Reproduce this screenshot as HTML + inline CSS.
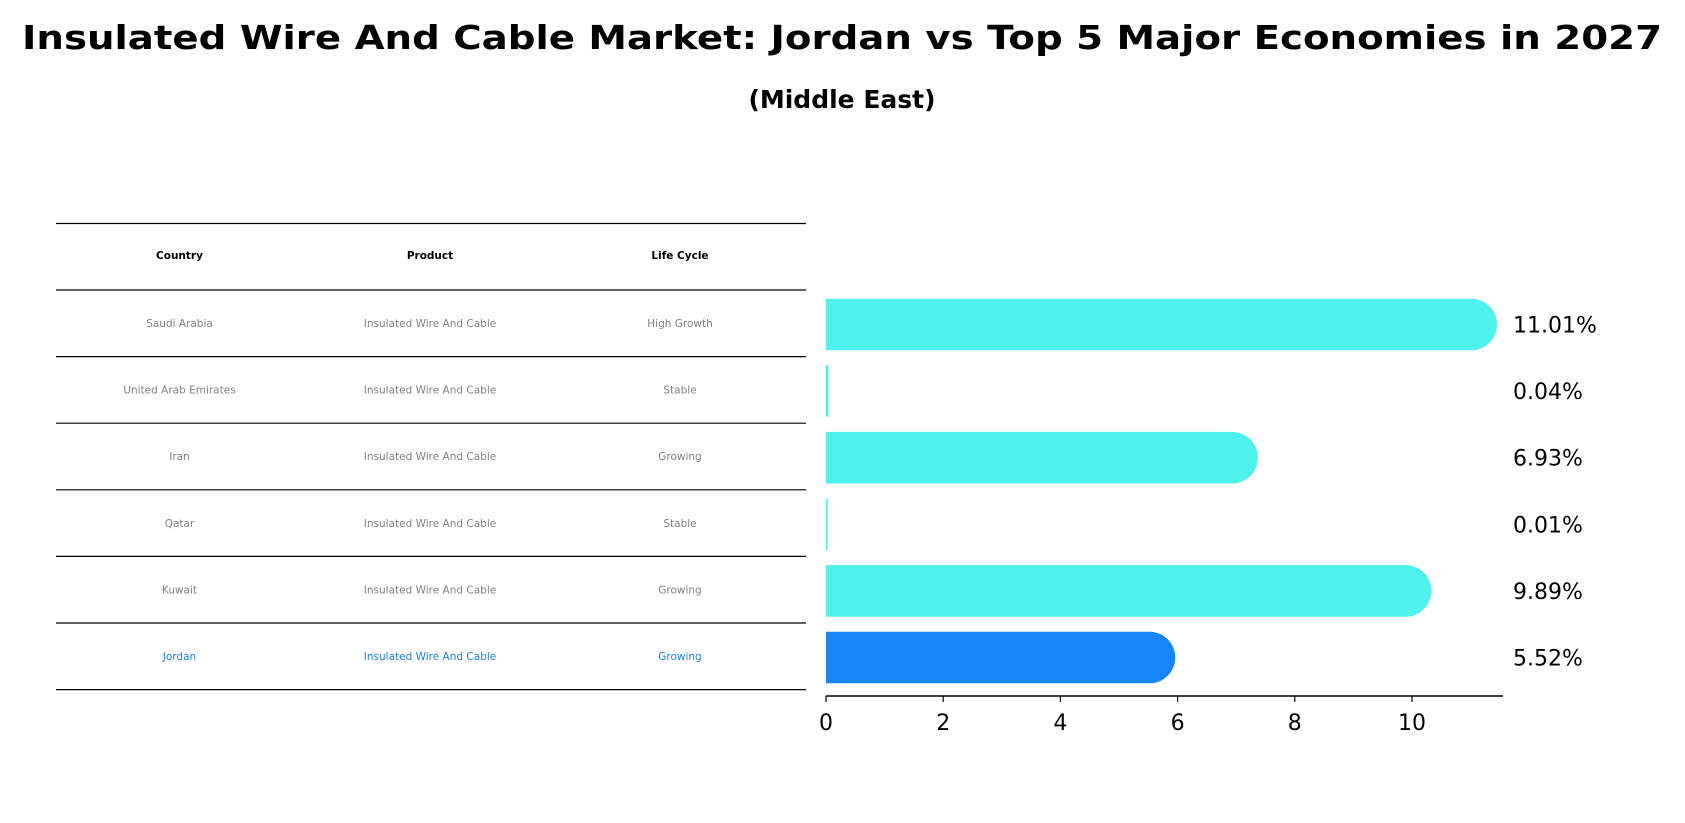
<!DOCTYPE html>
<html><head><meta charset="utf-8"><style>
html,body{margin:0;padding:0;background:#fff;}
svg{display:block;font-family:"DejaVu Sans","Liberation Sans",sans-serif;}
</style></head><body>
<svg id="chart" width="1685" height="823" viewBox="0 0 1685 823">
<text x="842" y="49" text-anchor="middle" font-size="33" font-weight="bold" textLength="1640" lengthAdjust="spacingAndGlyphs">Insulated Wire And Cable Market: Jordan vs Top 5 Major Economies in 2027</text>
<text x="842" y="108" text-anchor="middle" font-size="25" font-weight="bold">(Middle East)</text>
<g id="table"></g>
<g id="bars"></g>
<g id="axis"></g>
</svg>
<script>
const countries=["Saudi Arabia","United Arab Emirates","Iran","Qatar","Kuwait","Jordan"];
const products=["Insulated Wire And Cable","Insulated Wire And Cable","Insulated Wire And Cable","Insulated Wire And Cable","Insulated Wire And Cable","Insulated Wire And Cable"];
const lifeCycles=["High Growth","Stable","Growing","Stable","Growing","Growing"];
const values=[11.01,0.04,6.93,0.01,9.89,5.52];
const valueLabels=["11.01%","0.04%","6.93%","0.01%","9.89%","5.52%"];
const ticks=[0,2,4,6,8,10];
const headers=["Country","Product","Life Cycle"];

const NS="http://www.w3.org/2000/svg";
function mk(tag,attrs,parent){const e=document.createElementNS(NS,tag);for(const k in attrs)e.setAttribute(k,attrs[k]);parent.appendChild(e);return e;}
const x0=826,unit=58.6,axisY=696;
const X=v=>x0+v*unit;
const rowY0=323.5,rowStep=66.6;
const Y=i=>rowY0+i*rowStep;

// table
const tbl=document.getElementById('table');
const lineYs=[223.5];for(let i=0;i<=countries.length;i++)lineYs.push(290+i*66.6);
lineYs.forEach((y,i)=>{const l=mk('line',{x1:56,x2:806,y1:y,y2:y,stroke:'#000','stroke-width':1.2},tbl);

});
const colX=[179.5,430,680];
headers.forEach((h,j)=>{const t=mk('text',{x:colX[j],y:259,'text-anchor':'middle','font-size':10.5,'font-weight':'bold'},tbl);t.textContent=h;

});
countries.forEach((c,i)=>{const col=i===countries.length-1?'#1a7fd6':'#808080';
[c,products[i],lifeCycles[i]].forEach((s,j)=>{const t=mk('text',{x:colX[j],y:Y(i)+3.5,'text-anchor':'middle','font-size':10.5,fill:col},tbl);t.textContent=s;

});});

// bars
const bars=document.getElementById('bars');const h=51.6,r=h/2;
values.forEach((v,i)=>{const col=i===values.length-1?'#1785f5':'#4df0eb';const yc=Y(i)+1;
const w=X(v)-x0;let d;
if(w>r){d=`M${x0},${yc-r} H${X(v)} A${r},${r} 0 0 1 ${X(v)},${yc+r} H${x0} Z`;}
else{d=`M${x0},${yc-r} H${x0+Math.max(w,1.5)} V${yc+r} H${x0} Z`;}
const p=mk('path',{d:d,fill:col},bars);


const t=mk('text',{x:1513,y:yc+8,'font-size':22},bars);t.textContent=valueLabels[i];

});

// axis
const ax=document.getElementById('axis');
const al=mk('line',{x1:x0,x2:1503,y1:axisY,y2:axisY,stroke:'#000','stroke-width':1.6},ax);


ticks.forEach(t=>{const l=mk('line',{x1:X(t),x2:X(t),y1:axisY,y2:axisY+6,stroke:'#000','stroke-width':1.2},ax);


const tx=mk('text',{x:X(t),y:axisY+34,'text-anchor':'middle','font-size':22},ax);tx.textContent=t;

});
</script>
</body></html>
